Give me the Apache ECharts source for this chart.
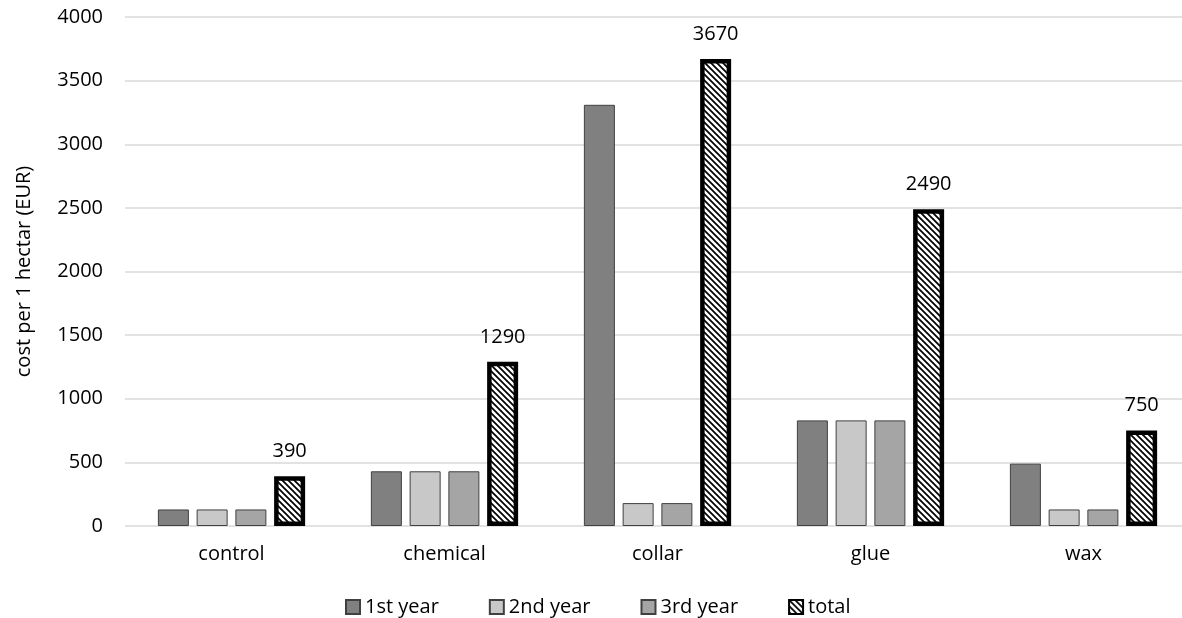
<!DOCTYPE html>
<html>
<head>
<meta charset="utf-8">
<script src="https://cdn.jsdelivr.net/npm/echarts@6/dist/echarts.min.js"></script>
<style>
  html, body { margin: 0; padding: 0; background: #fff; overflow: hidden; }
  /* plot area continues a little past the right edge of the window */
  #chart { width: 1190px; height: 618px; }
</style>
</head>
<body>
<div id="chart"></div>
<script>
// Treatment costs per hectare, by year and in total
const categories = ['control', 'chemical', 'collar', 'glue', 'wax'];
const year1 = [130, 430, 3310, 830, 490];
const year2 = [130, 430, 180, 830, 130];
const year3 = [130, 430, 180, 830, 130];
const total = [390, 1290, 3670, 2490, 750];
const seriesNames = ['1st year', '2nd year', '3rd year', 'total'];
const yTicks = { min: 0, max: 4000, interval: 500 };

// Diagonal hatch used to fill the "total" bars
function makeHatch() {
  const s = 6;
  const c = document.createElement('canvas');
  c.width = s; c.height = s;
  const ctx = c.getContext('2d');
  ctx.fillStyle = '#fff';
  ctx.fillRect(0, 0, s, s);
  ctx.strokeStyle = '#000';
  ctx.lineWidth = 1.7;
  ctx.lineCap = 'square';
  [-s, 0, s].forEach(k => {
    ctx.beginPath();
    ctx.moveTo(-1, -1 + k);
    ctx.lineTo(s + 1, s + 1 + k);
    ctx.stroke();
  });
  return c;
}

const FONT = '"Open Sans", "Noto Sans", sans-serif';
const chart = echarts.init(document.getElementById('chart'), null, { renderer: 'canvas' });

const plainBar = (name, data, color) => ({
  name, type: 'bar', data,
  barWidth: 31, barGap: '25%',
  itemStyle: { color, borderColor: '#404040', borderWidth: 1 }
});

chart.setOption({
  animation: false,
  textStyle: { fontFamily: FONT, color: '#000' },
  grid: { left: 125, right: 0, top: 17, bottom: 92, containLabel: false },
  legend: {
    data: seriesNames,
    bottom: -4,
    left: 340,
    itemWidth: 14,
    itemHeight: 14,
    itemGap: 50,
    icon: 'rect',
    textStyle: { fontFamily: FONT, fontSize: 20, color: '#000' }
  },
  xAxis: {
    type: 'category',
    data: categories,
    axisLine: { show: false },
    axisTick: { show: false },
    axisLabel: { fontFamily: FONT, fontSize: 20, color: '#000', margin: 18 }
  },
  yAxis: {
    type: 'value',
    min: yTicks.min, max: yTicks.max, interval: yTicks.interval,
    name: 'cost per 1 hectar (EUR)',
    nameLocation: 'middle',
    nameGap: 91,
    nameTextStyle: { fontFamily: FONT, fontSize: 20, color: '#000' },
    axisLine: { show: false },
    axisTick: { show: false },
    axisLabel: {
      fontFamily: FONT, fontSize: 20, color: '#000', margin: 22,
      formatter: v => String(v)
    },
    splitLine: { lineStyle: { color: '#d9d9d9', width: 1.5 } }
  },
  series: [
    plainBar(seriesNames[0], year1, '#808080'),
    plainBar(seriesNames[1], year2, '#c8c8c8'),
    plainBar(seriesNames[2], year3, '#a5a5a5'),
    {
      name: seriesNames[3], type: 'bar', data: total,
      barWidth: 31, barGap: '25%',
      itemStyle: {
        color: { image: makeHatch(), repeat: 'repeat' },
        borderColor: '#000', borderWidth: 4.5
      },
      label: {
        show: true, position: 'top', distance: 15,
        fontFamily: FONT, fontSize: 20, color: '#000'
      }
    }
  ]
});
</script>
</body>
</html>
